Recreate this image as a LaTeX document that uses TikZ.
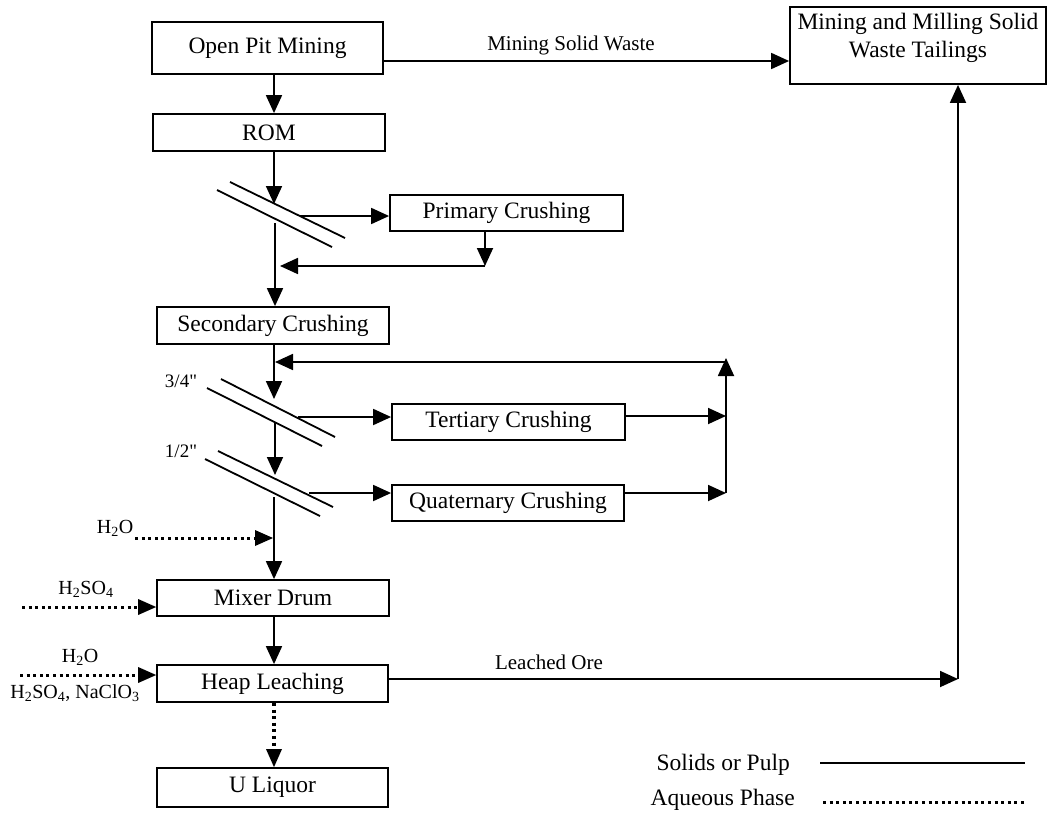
\documentclass[tikz,border=0pt]{standalone}
\usepackage{fontspec}
\setmainfont{Liberation Serif}
\usetikzlibrary{arrows.meta}
\tikzset{
  box/.style={draw, line width=1.8pt, minimum width=232pt, minimum height=36pt, inner sep=0pt, font=\fontsize{23.5}{28}\selectfont},
  flow/.style={line width=1.8pt, -{Triangle[length=18pt,width=16pt]}},
  solid line/.style={line width=1.8pt},
  aq/.style={line width=3pt, dash pattern=on 3pt off 3.6pt},
  aqflow/.style={aq, -{Triangle[length=18pt,width=16pt,line width=0pt]}},
  scr/.style={line width=1.8pt},
  lbl/.style={font=\fontsize{21}{24}\selectfont, inner sep=0pt},
  chem/.style={font=\fontsize{20}{22}\selectfont, inner sep=0pt},
  leg/.style={font=\fontsize{23.5}{26}\selectfont, inner sep=0pt}
}
\begin{document}
\begin{tikzpicture}[x=1pt,y=-1pt]
\useasboundingbox (0,0) rectangle (1051,814);
% boxes
\node[box, minimum width=231pt, minimum height=52pt] (open) at (267.5,48) {Open Pit Mining};
\node[box, minimum height=37pt] (rom) at (269,132.5) {ROM};
\node[box, minimum width=233pt, minimum height=36pt] (prim) at (506.5,213) {Primary Crushing};
\node[box, minimum height=37pt] (sec) at (273,325.5) {Secondary Crushing};
\node[box, minimum width=233pt] (tert) at (508.5,422) {Tertiary Crushing};
\node[box] (quat) at (508,503) {Quaternary Crushing};
\node[box] (mixer) at (273,598) {Mixer Drum};
\node[box, minimum width=231pt, minimum height=37pt] (heap) at (272.5,683.5) {Heap Leaching};
\node[box, minimum width=231pt, minimum height=39pt] (uliq) at (272.5,787.5) {U Liquor};
\node[box, minimum width=256pt, minimum height=77pt] (tail) at (918,45.5) {};
\node[align=center, anchor=north, inner sep=0pt, font=\fontsize{23.5}{28}\selectfont] (tailtxt) at ([yshift=-7pt]tail.north) {Mining and Milling Solid\\Waste Tailings};

% helper coordinates
\coordinate (c) at (274,0);
\coordinate (mw) at (0,61);
\coordinate (s1top) at (274,204);
\coordinate (s1out) at (300,216);
\coordinate (s1bot) at (275,223);
\coordinate (pr) at (485,0);
\coordinate (prret) at (485,266);
\coordinate (prtip) at (280,266);
\coordinate (s2top) at (274,399);
\coordinate (s2out) at (298,417);
\coordinate (s2bot) at (275,423);
\coordinate (s3top) at (275,475);
\coordinate (s3out) at (309,493);
\coordinate (s3bot) at (274,497);
\coordinate (fb) at (726,0);
\coordinate (fbtop) at (726,358);
\coordinate (fbh) at (726,362);
\coordinate (fbtip) at (275,362);
\coordinate (tout) at (0,416);
\coordinate (qout) at (0,493);
\coordinate (h2o) at (135,538);
\coordinate (h2otip) at (273,538);
\coordinate (acid) at (22,607);
\coordinate (acid2) at (20,675);
\coordinate (lo) at (958,679);

% solid flows
\draw[flow] (open.south -| c) -- (rom.north -| c);
\draw[flow] (open.east |- mw) -- (tail.west |- mw);
\node[lbl] (msw) at (571,45) {Mining Solid Waste};
\draw[flow] (rom.south -| c) -- (s1top);
% screen 1
\draw[scr] (230,182) -- (345,238);
\draw[scr] (217,190) -- (332,247);
\draw[flow] (s1out) -- (prim.west |- s1out);
\draw[flow] (s1bot) -- (sec.north -| s1bot);
\draw[flow] (prim.south -| pr) -- (prret);
\draw[flow] (prret) -- (prtip);

\draw[flow] (sec.south -| c) -- (s2top);
\draw[flow] (fbh) -- (fbtip);
% screen 2
\draw[scr] (221,379) -- (335,437);
\draw[scr] (207,388) -- (322,446);
\node[chem, font=\fontsize{19}{22}\selectfont] (l34) at (181,381) {3/4\textquotedbl};
\draw[flow] (s2out) -- (tert.west |- s2out);
\draw[flow] (s2bot) -- (s3top);
% screen 3
\draw[scr] (218,451) -- (333,507);
\draw[scr] (205,459) -- (320,516);
\node[chem, font=\fontsize{19}{22}\selectfont] (l12) at (181,451) {1/2\textquotedbl};
\draw[flow] (s3out) -- (quat.west |- s3out);
\draw[flow] (tert.east |- tout) -- (fb |- tout);
\draw[flow] (quat.east |- qout) -- (fb |- qout);
\draw[flow] (fb |- qout) -- (fbtop);

\draw[flow] (s3bot) -- (mixer.north -| s3bot);
\draw[flow] (mixer.south -| c) -- (heap.north -| c);
\draw[flow] (heap.east |- lo) -- (lo);
\node[lbl] (lol) at (549,662) {Leached Ore};
\draw[flow] (lo) -- (tail.south -| lo);

% aqueous flows
\node[chem] (w1) at (115,528) {H\textsubscript{2}O};
\draw[aqflow] (h2o) -- (h2otip);
\node[chem] (a1) at (86,589) {H\textsubscript{2}SO\textsubscript{4}};
\draw[aqflow] (acid) -- (mixer.west |- acid);
\node[chem] (w2) at (80,657) {H\textsubscript{2}O};
\node[chem] (a2) at (75,693) {H\textsubscript{2}SO\textsubscript{4}, NaClO\textsubscript{3}};
\draw[aqflow] (acid2) -- (heap.west |- acid2);
\draw[aqflow, line width=3.5pt] (heap.south -| c) -- (uliq.north -| c);

% legend
\node[leg, anchor=east] (ls) at (790,765) {Solids or Pulp};
\node[leg, anchor=east] (la) at (795,800) {Aqueous Phase};
\coordinate (ls1) at (820,763);
\coordinate (ls2) at (1025,763);
\coordinate (la1) at (823,802);
\coordinate (la2) at (1025,802);
\draw[solid line] (ls1) -- (ls2);
\draw[aq] (la1) -- (la2);
\end{tikzpicture}
\end{document}
